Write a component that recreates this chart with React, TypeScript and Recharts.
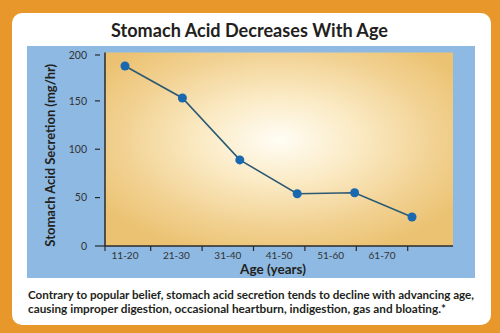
import {
  LineChart,
  CartesianGrid,
  XAxis,
  YAxis,
  Line,
} from 'recharts'

const ageGroups = ['11-20', '21-30', '31-40', '41-50', '51-60', '61-70']
const acidSecretion = [186, 153, 89, 54, 55, 30]
const acidTicks = [0, 50, 100, 150, 200]

const data = ageGroups.map((age, i) => ({age, acid: acidSecretion[i]}))

const ORANGE = '#E8982B'
const BLUE = '#8DB9E3'
const INK = '#231F20'
const AXIS = '#2A2A2A'
const LINE = '#2C5A73'
const DOT = '#1A68B0'
const FONT = 'Lato, "Open Sans", sans-serif'

// label padding on the visible x axis; tick marks sit half a step to the right
const LABEL_PAD = 20
const HALF_STEP = 25.7

const AgeTick = (props: any) => {
  const {x, y, payload, index} = props
  return (
    <g>
      <text x={x} y={y + 13} textAnchor='middle' fontSize={10} fill='#333' fontFamily={FONT}>
        {payload.value}
      </text>
      <line x1={x + HALF_STEP} x2={x + HALF_STEP} y1={y} y2={y + 5} stroke={AXIS} strokeWidth={1.2}/>
      {index === 0 && (
        <line x1={x - LABEL_PAD} x2={x - LABEL_PAD} y1={y} y2={y + 5} stroke={AXIS} strokeWidth={1.2}/>
      )}
    </g>
  )
}

const AcidTick = (props: any) => {
  const {x, y, payload} = props
  return (
    <g>
      <text x={x - 18} y={y} dy='0.35em' textAnchor='end' fontSize={10.5} fill='#333' fontFamily={FONT}>
        {payload.value}
      </text>
      <line x1={x - 10} x2={payload.value === 0 ? x : x - 5} y1={y} y2={y} stroke={AXIS} strokeWidth={1.2}/>
    </g>
  )
}

export default function App() {
  return (
    <div style={{position: 'fixed', left: 0, top: 0, width: 500, height: 333, background: ORANGE, fontFamily: FONT}}>
      <div style={{position: 'absolute', left: 12, top: 13, width: 479, height: 312, background: '#fff', borderRadius: 10}}/>
      <div style={{position: 'absolute', left: 27, top: 46, width: 448, height: 232, background: BLUE}}/>
      <div style={{position: 'absolute', left: 27, top: 46}}>
        <LineChart width={448} height={232} data={data}
                   margin={{top: 6.5, right: 22, bottom: 0, left: 0}}
        >
          <defs>
            <radialGradient id='plotGlow' cx='0.5' cy='0.45' r='0.62'>
              <stop offset='0' stopColor='#FFFDF5'/>
              <stop offset='0.35' stopColor='#FBEBC6'/>
              <stop offset='0.75' stopColor='#F1D08F'/>
              <stop offset='1' stopColor='#EBC272'/>
            </radialGradient>
          </defs>
          <CartesianGrid xAxisId='lab' yAxisId='left' horizontal={false} vertical={false}
                         fill='url(#plotGlow)' fillOpacity={1}/>
          <XAxis xAxisId='pts' dataKey='age' hide padding={{left: 20, right: 41}}/>
          <XAxis xAxisId='lab' dataKey='age' height={32} interval={0}
                 padding={{left: LABEL_PAD, right: 71}}
                 tickSize={0} tickMargin={0} tickLine={false}
                 tick={(p: any) => <AgeTick {...p}/>}
                 axisLine={{stroke: AXIS, strokeWidth: 1.5}}
                 label={{value: 'Age (years)', position: 'insideBottom', offset: 4, dx: -6,
                   style: {fontSize: 13.5, fontWeight: 700, fill: INK, fontFamily: FONT}}}
          />
          <XAxis xAxisId='top' dataKey='age' orientation='top' height={0}
                 tick={false} tickLine={false} axisLine={{stroke: '#3a3a3a', strokeWidth: 1}}/>
          <YAxis yAxisId='left' domain={[0, 200]} ticks={acidTicks} width={78}
                 tickSize={0} tickMargin={0} tickLine={false}
                 tick={(p: any) => <AcidTick {...p}/>}
                 axisLine={{stroke: AXIS, strokeWidth: 1.5}}
                 label={{value: 'Stomach Acid Secretion (mg/hr)', angle: -90, position: 'insideLeft',
                   offset: 23, dy: 6,
                   style: {textAnchor: 'middle', fontSize: 13, fontWeight: 700, fill: INK, fontFamily: FONT}}}
          />
          <YAxis yAxisId='right' orientation='right' domain={[0, 200]} width={0}
                 tick={false} tickLine={false} axisLine={{stroke: '#3a3a3a', strokeWidth: 1}}/>
          <Line xAxisId='pts' yAxisId='left' dataKey='acid' stroke={LINE} strokeWidth={1.6}
                dot={{r: 4.5, fill: DOT, stroke: DOT, strokeWidth: 0}}
                isAnimationActive={false}/>
        </LineChart>
      </div>
      <svg width={500} height={333} style={{position: 'absolute', left: 0, top: 0, pointerEvents: 'none'}}>
        <text x={249.5} y={36.5} textAnchor='middle' fontSize={18.5} fontWeight={700} fill={INK}
              fontFamily={FONT} textLength={277} lengthAdjust='spacingAndGlyphs'>
          Stomach Acid Decreases With Age
        </text>
        <text x={28} y={299} fontSize={12} fontWeight={700} fill={INK}
              fontFamily={FONT} textLength={446} lengthAdjust='spacingAndGlyphs'>
          Contrary to popular belief, stomach acid secretion tends to decline with advancing age,
        </text>
        <text x={28} y={313} fontSize={12} fontWeight={700} fill={INK}
              fontFamily={FONT} textLength={418} lengthAdjust='spacingAndGlyphs'>
          causing improper digestion, occasional heartburn, indigestion, gas and bloating.*
        </text>
      </svg>
    </div>
  )
}
